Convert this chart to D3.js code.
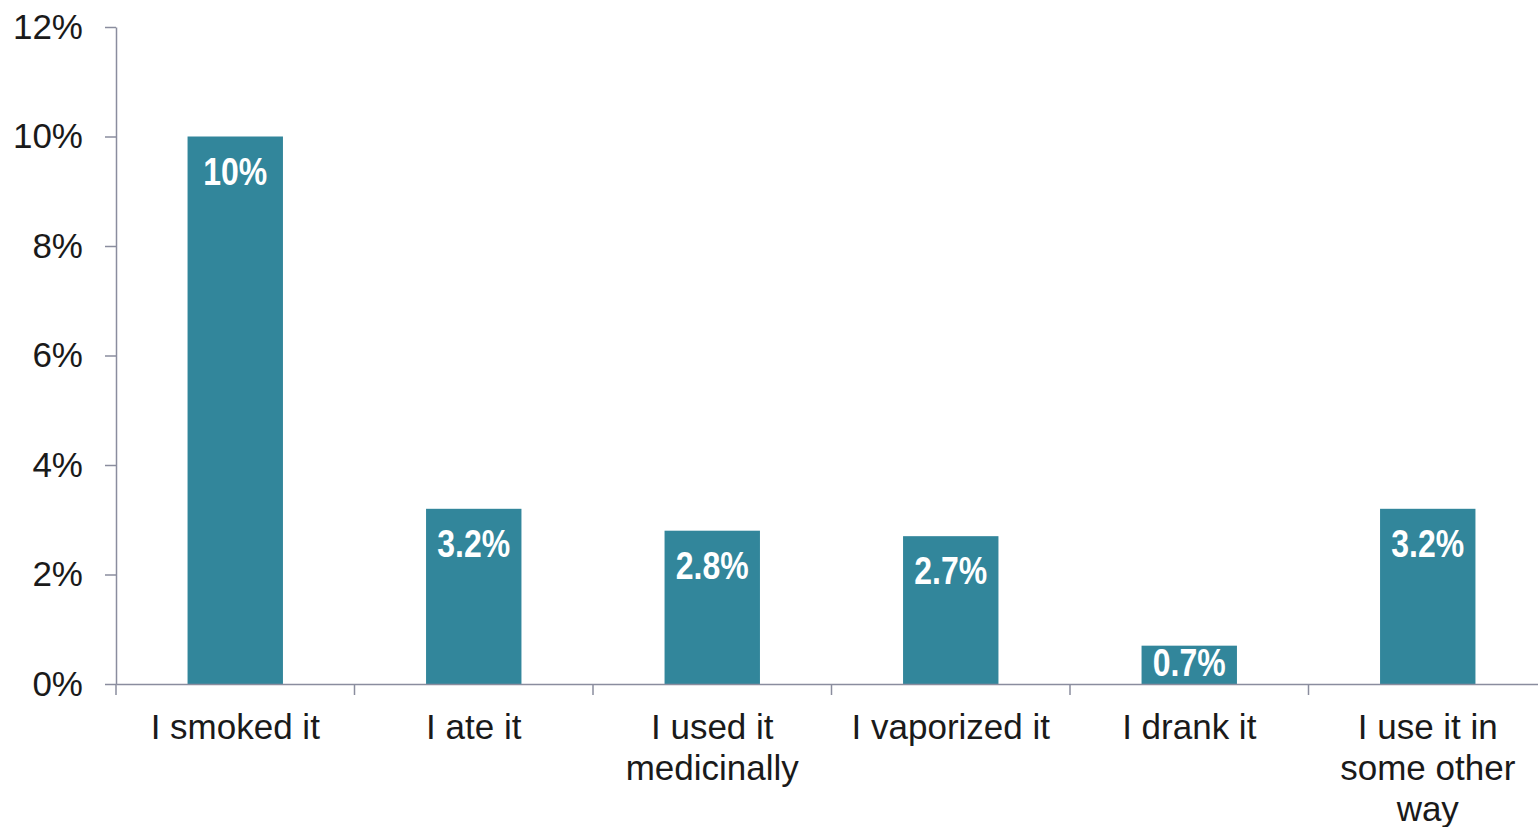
<!DOCTYPE html>
<html>
<head>
<meta charset="utf-8">
<script src="https://cdn.jsdelivr.net/npm/d3@7"></script>
<style>
  body { margin:0; background:#fff; }
  svg { display:block; overflow:hidden; }
  .axis path, .axis line { stroke:#8a8d9e; stroke-width:1.5; }
  .axis text { font-family:"Liberation Sans", Arial, sans-serif; font-size:35px; fill:#1a1a1a; }
  .bar-label { font-family:"Liberation Sans", Arial, sans-serif; font-weight:bold; font-size:39px; fill:#fff; }
</style>
</head>
<body>
<div id="chart"></div>
<script>
var categories = ["I smoked it", "I ate it", "I used it medicinally", "I vaporized it", "I drank it", "I use it in some other way"];
var values = [10, 3.2, 2.8, 2.7, 0.7, 3.2];
var valueLabels = ["10%", "3.2%", "2.8%", "2.7%", "0.7%", "3.2%"];
var yTicks = [0, 2, 4, 6, 8, 10, 12];

var width = 1538;
var height = 827;

var margin = {left:116, right:-9, top:27, bottom:143};

var svg = d3.select("#chart")
            .append("svg")
            .attr("width", width)
            .attr("height", height);

// bands run past the right edge like the original
var xOuter = d3.scaleBand()
            .domain(categories)
            .range([margin.left, width - margin.right]);

var x = d3.scaleBand()
            .domain(categories)
            .range([margin.left, width - margin.right])
            .paddingInner(0.6)
            .paddingOuter(0.3);

var y = d3.scaleLinear()
            .domain([0, 12])
            .range([height - margin.bottom, margin.top]);

var yAxis = d3.axisLeft(y)
            .tickValues(yTicks)
            .tickFormat(function(d){ return d + "%"; })
            .tickSize(11)
            .tickPadding(22)
            .tickSizeOuter(0);

svg.append("g")
    .attr("class", "axis y")
    .attr("transform", "translate(" + margin.left + ",0)")
    .call(yAxis);

// bars
svg.selectAll(".bar")
    .data(values)
    .enter().append("rect")
    .attr("class", "bar")
    .attr("x", function(d, i){ return x(categories[i]); })
    .attr("width", x.bandwidth())
    .attr("y", function(d){ return y(d); })
    .attr("height", function(d){ return y(0) - y(d); })
    .attr("fill", "#32869b");

// x axis: labels centred on bands, tick marks on band edges
var xAxis = d3.axisBottom(xOuter)
            .tickSize(0)
            .tickPadding(30)
            .tickSizeOuter(0);

var xg = svg.append("g")
    .attr("class", "axis x")
    .attr("transform", "translate(0," + y(0) + ")")
    .call(xAxis);

xg.selectAll(".tick text").call(wrap, 220);

xg.selectAll(".edge")
    .data(categories)
    .enter().append("line")
    .attr("class", "edge")
    .attr("x1", function(d){ return xOuter(d); })
    .attr("x2", function(d){ return xOuter(d); })
    .attr("y1", 0)
    .attr("y2", 11);

// value labels, squeezed to look like a narrow bold face
svg.selectAll(".bar-label")
    .data(values)
    .enter().append("text")
    .attr("class", "bar-label")
    .attr("text-anchor", "middle")
    .attr("transform", function(d, i){
      var cx = x(categories[i]) + x.bandwidth() / 2,
          cy = Math.min(y(d) + 48, y(0) - 8);
      return "translate(" + cx + "," + cy + ") scale(0.82,1)";
    })
    .text(function(d, i){ return valueLabels[i]; });

function wrap(text, w) {
  text.each(function() {
    var t = d3.select(this),
        words = t.text().split(/\s+/),
        line = [],
        lineNo = 0,
        lh = 41,
        yy = +t.attr("y"),
        tspan = t.text(null).append("tspan").attr("x", 0).attr("y", yy).attr("dy", "0.71em");
    words.forEach(function(word) {
      line.push(word);
      tspan.text(line.join(" "));
      if (tspan.node().getComputedTextLength() > w && line.length > 1) {
        line.pop();
        tspan.text(line.join(" "));
        line = [word];
        lineNo++;
        tspan = t.append("tspan").attr("x", 0)
                 .attr("y", yy + lineNo * lh).attr("dy", "0.71em").text(word);
      }
    });
  });
}
</script>
</body>
</html>
